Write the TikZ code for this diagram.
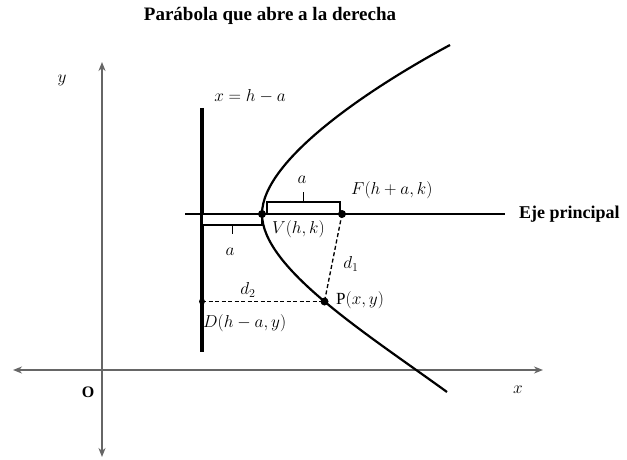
\documentclass[tikz,border=0pt]{standalone}
\usepackage{fontspec}
\setmainfont{Liberation Serif}
\usetikzlibrary{arrows.meta}
\tikzset{
  axisline/.style={draw=black!60, line width=1.6pt, {Stealth[length=9pt,width=7pt]}-{Stealth[length=9pt,width=7pt]}},
  curveline/.style={line width=2.2pt, black},
  dot/.style={circle, fill=black, inner sep=0pt, minimum size=8pt},
  lbl/.style={font=\fontsize{17}{19}\selectfont, inner sep=1pt},
  barbox/.style={draw, line width=1.6pt, fill=white},
  dashline/.style={dash pattern=on 4pt off 2.5pt, line width=1.3pt},
  boldlbl/.style={font=\fontsize{18}{20}\selectfont\bfseries, inner sep=1pt}
}
\begin{document}
\begin{tikzpicture}[x=1pt,y=-1pt]
\useasboundingbox (0,0) rectangle (627,460);
% axes
\coordinate (xl) at (13,370); \coordinate (xr) at (543,370);
\coordinate (yt) at (102,62); \coordinate (yb) at (102,457);
\draw[axisline] (xl) -- (xr);
\draw[axisline] (yb) -- (yt);
\node[lbl] (ylab) at (62,80) {$y$};
\node[lbl, font=\fontsize{16}{18}\selectfont\bfseries] (olab) at (88,392) {O};
\node[lbl] (xlab) at (518,390) {$x$};
% title
\node[font=\fontsize{19}{21}\selectfont\bfseries] (title) at (270,16) {Parábola que abre a la derecha};
% main axis of parabola
\coordinate (el) at (185,214);
\node[boldlbl, anchor=west] (eje) at (518,214) {Eje principal};
\draw[line width=1.1pt] (el) -- (505,214);
% points
\coordinate (V) at (262,214);
\coordinate (F) at (342,214);
\coordinate (top) at (450,45);
\coordinate (bot) at (447,392);
% directrix
\coordinate (dt) at (202,108); \coordinate (db) at (202,352);
\draw[line width=3.5pt] (dt) -- (db);
\node[lbl] (dirlab) at (250,96) {$x = h - a$};
% bars
\draw[barbox] (267,202) rectangle (340,214);
\draw[barbox] (202,214) rectangle (262,225);
\draw[line width=1pt] (303,202) -- (303,192);
\draw[line width=1pt] (232,225) -- (232,234);
\node[lbl] (a1) at (302,180) {$a$};
\node[lbl] (a2) at (230,252) {$a$};
% parabola
\draw[curveline] (top) .. controls (370,88) and (262,160) .. (V);
\draw[curveline] (V) .. controls (262,268) and (367,334) .. coordinate[pos=0.5] (P) (bot);
\coordinate (D) at (dt |- P);
% dashed distances
\draw[dashline] (F) -- (P);
\draw[dashline] (D) -- (P);
% dots
\node[dot] (dV) at (V) {};
\node[dot] (dF) at (F) {};
\node[dot] (dP) at (P) {};
\node[dot, minimum size=6pt] (dD) at (D) {};
% labels
\node[lbl, anchor=west] (Flab) at (350,190) {$F(h+a,k)$};
\node[lbl, anchor=west] (Vlab) at (271,229) {$V(h,k)$};
\node[lbl, anchor=west] (Plab) at (335,300) {$\mathrm{P}(x,y)$};
\node[lbl, anchor=west] (Dlab) at (202,323) {$D(h-a,y)$};
\node[lbl] (d1) at (351,264) {$d_1$};
\node[lbl] (d2) at (248,290) {$d_2$};
\end{tikzpicture}
\end{document}
